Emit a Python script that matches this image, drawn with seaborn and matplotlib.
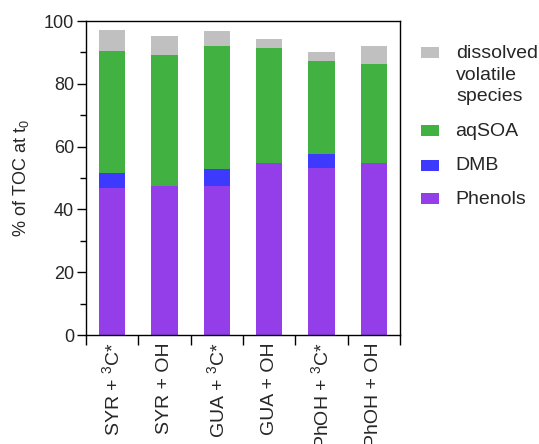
import matplotlib
matplotlib.use("Agg")
import matplotlib.pyplot as plt
from matplotlib.patches import Rectangle
import seaborn as sns
import numpy as np
import pandas as pd

categories = ["SYR + $^{3}$C*", "SYR + OH", "GUA + $^{3}$C*", "GUA + OH", "PhOH + $^{3}$C*", "PhOH + OH"]
phenols = [46.9, 47.5, 47.3, 54.9, 53.2, 54.9]
dmb = [4.6, 0.0, 5.6, 0.0, 4.3, 0.0]
aqsoa = [38.9, 41.8, 39.2, 36.6, 29.8, 31.4]
volatile = [6.7, 5.9, 4.7, 2.7, 2.7, 5.7]

series_names = ["dissolved\nvolatile\nspecies", "aqSOA", "DMB", "Phenols"]
colors = {"Phenols": "#933ee8", "DMB": "#3d3afd", "aqSOA": "#41b141", "volatile": "#c0c0c0"}

sns.set_theme(style="ticks")
plt.rcParams["font.family"] = ["Liberation Sans", "DejaVu Sans"]
plt.rcParams["mathtext.fontset"] = "custom"
plt.rcParams["mathtext.rm"] = "Liberation Sans"
plt.rcParams["mathtext.it"] = "Liberation Sans:italic"
plt.rcParams["mathtext.bf"] = "Liberation Sans:bold"

W, H = 539, 444
fig = plt.figure(figsize=(W / 100, H / 100), dpi=100)
ax = fig.add_axes([86 / W, 1 - 335 / H, (400 - 86) / W, (335 - 21) / H])

ph = np.array(phenols)
cum_dmb = ph + np.array(dmb)
cum_soa = cum_dmb + np.array(aqsoa)
cum_vol = cum_soa + np.array(volatile)

layers = [(cum_vol, colors["volatile"]), (cum_soa, colors["aqSOA"]),
          (cum_dmb, colors["DMB"]), (ph, colors["Phenols"])]
for vals, col in layers:
    df = pd.DataFrame({"cat": categories, "val": vals})
    sns.barplot(data=df, x="cat", y="val", color=col, saturation=1, width=0.5,
                order=categories, ax=ax, edgecolor="none", linewidth=0)

ax.set_xlim(-0.5, 5.5)
ax.set_ylim(0, 100)
ax.set_xlabel("")
ax.set_ylabel("% of TOC at t$_0$", fontsize=13, labelpad=9)

ax.set_yticks(np.arange(0, 101, 20))
ax.set_yticks(np.arange(0, 101, 10), minor=True)
ax.set_xticks(np.arange(-0.5, 6, 1), minor=True)
ax.tick_params(axis="y", which="major", length=6.5, width=1.0, labelsize=13, direction="out", color="black", pad=2)
ax.tick_params(axis="y", which="minor", length=4.3, width=1.0, direction="out", color="black")
ax.tick_params(axis="x", which="major", length=0, labelsize=14, pad=5)
ax.tick_params(axis="x", which="minor", length=7.5, width=1.0, direction="out", color="black")
for lab in ax.get_xticklabels():
    lab.set_rotation(90)
    lab.set_va("top")
    lab.set_ha("center")

for sp in ax.spines.values():
    sp.set_visible(True)
    sp.set_linewidth(1.0)
    sp.set_color("black")

# legend (manual, handle aligned to first line)
def fx(px):
    return px / W

def fy(py):
    return 1 - py / H

legend_items = [(series_names[0], colors["volatile"], 53),
                (series_names[1], colors["aqSOA"], 131),
                (series_names[2], colors["DMB"], 165),
                (series_names[3], colors["Phenols"], 199)]
for name, col, yc in legend_items:
    fig.add_artist(Rectangle((fx(421), fy(yc + 5.5)), 18 / W, 11 / H,
                             transform=fig.transFigure, facecolor=col, edgecolor="none"))
    if "\n" in name:
        fig.text(fx(456), fy(yc - 8), name, fontsize=14, va="top", ha="left",
                 linespacing=1.35)
    else:
        fig.text(fx(455), fy(yc), name, fontsize=14, va="center", ha="left")

fig.savefig("out.png", dpi=100)
